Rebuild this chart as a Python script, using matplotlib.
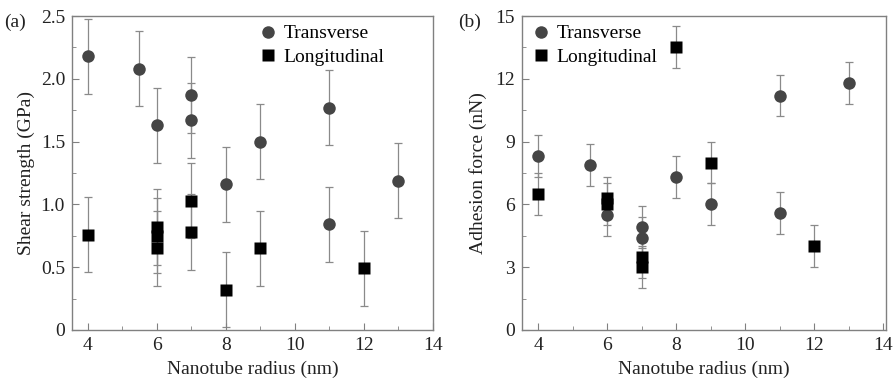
import matplotlib.pyplot as plt

plt.rcParams['font.family'] = ['Liberation Serif', 'DejaVu Serif']

# (a) shear strength, GPa
a_tr_x = [4, 5.5, 6, 7, 7, 8, 9, 11, 11, 13]
a_tr_y = [2.18, 2.08, 1.63, 1.87, 1.67, 1.16, 1.50, 1.77, 0.84, 1.19]
a_lo_x = [4, 6, 6, 6, 7, 7, 8, 9, 12]
a_lo_y = [0.76, 0.82, 0.75, 0.65, 1.03, 0.78, 0.32, 0.65, 0.49]
a_err = 0.3

# (b) adhesion force, nN
b_tr_x = [4, 5.5, 6, 7, 7, 8, 9, 11, 11, 13]
b_tr_y = [8.3, 7.9, 5.5, 4.9, 4.4, 7.3, 6.0, 11.2, 5.6, 11.8]
b_lo_x = [4, 6, 6, 7, 7, 8, 9, 12]
b_lo_y = [6.5, 6.3, 6.0, 3.5, 3.0, 13.5, 8.0, 4.0]
b_err = 1.0

fig = plt.figure(figsize=(8.94, 3.81), dpi=100)
ax1 = fig.add_axes([0.0805, 0.134, 0.4038, 0.824])
ax2 = fig.add_axes([0.5836, 0.134, 0.408, 0.824])

spine_col = '#808080'
err_col = '#8a8a8a'
txt_col = '#222222'
fs = 14


def draw(ax, tx, ty, lx, ly, err):
    ax.errorbar(tx, ty, yerr=err, fmt='none', ecolor=err_col, elinewidth=0.9,
                capsize=2.6, capthick=0.9, zorder=1)
    ax.errorbar(lx, ly, yerr=err, fmt='none', ecolor=err_col, elinewidth=0.9,
                capsize=2.6, capthick=0.9, zorder=1)
    ax.plot(tx, ty, 'o', color='#454545', ms=9, mec='none', zorder=3, label='Transverse')
    ax.plot(lx, ly, 's', color='black', ms=8, mec='none', zorder=4, label='Longitudinal')
    for s in ax.spines.values():
        s.set_color(spine_col)
        s.set_linewidth(1.0)
    ax.tick_params(which='both', direction='in', color=spine_col, labelsize=fs,
                   top=False, right=False, labelcolor=txt_col)
    ax.tick_params(which='major', length=5, pad=5)
    ax.tick_params(which='minor', length=3)
    ax.set_xlabel('Nanotube radius (nm)', fontsize=fs, color=txt_col, labelpad=5)


draw(ax1, a_tr_x, a_tr_y, a_lo_x, a_lo_y, a_err)
ax1.set_xlim(3.55, 14)
ax1.set_ylim(0, 2.5)
ax1.set_xticks([4, 6, 8, 10, 12, 14])
ax1.set_xticks([5, 7, 9, 11, 13], minor=True)
ax1.set_yticks([0, 0.5, 1.0, 1.5, 2.0, 2.5])
ax1.set_yticklabels(['0', '0.5', '1.0', '1.5', '2.0', '2.5'])
ax1.set_yticks([0.25, 0.75, 1.25, 1.75, 2.25], minor=True)
ax1.set_ylabel('Shear strength (GPa)', fontsize=fs, color=txt_col, labelpad=4)
ax1.legend(loc='upper left', bbox_to_anchor=(0.5, 1.0), frameon=False, fontsize=fs,
           handlelength=0.7, handletextpad=0.45, labelspacing=0.3, borderaxespad=0.05)
fig.text(0.005, 0.93, '(a)', fontsize=fs, color=txt_col)

draw(ax2, b_tr_x, b_tr_y, b_lo_x, b_lo_y, b_err)
ax2.set_xlim(3.52, 14.1)
ax2.set_ylim(0, 15)
ax2.set_xticks([4, 6, 8, 10, 12, 14])
ax2.set_xticks([5, 7, 9, 11, 13], minor=True)
ax2.set_yticks([0, 3, 6, 9, 12, 15])
ax2.set_yticks([1.5, 4.5, 7.5, 10.5, 13.5], minor=True)
ax2.set_ylabel('Adhesion force (nN)', fontsize=fs, color=txt_col, labelpad=6)
ax2.legend(loc='upper left', bbox_to_anchor=(0.01, 1.0), frameon=False, fontsize=fs,
           handlelength=0.7, handletextpad=0.45, labelspacing=0.3, borderaxespad=0.05)
fig.text(0.5125, 0.93, '(b)', fontsize=fs, color=txt_col)

plt.savefig('out.png', dpi=100)
